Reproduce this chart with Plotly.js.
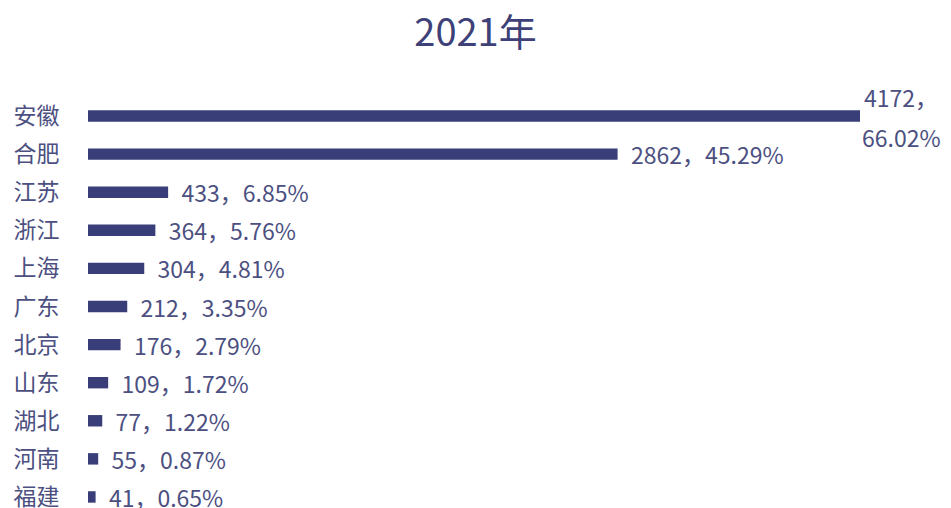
<!DOCTYPE html>
<html>
<head>
<meta charset="utf-8">
<script src="https://cdn.plot.ly/plotly-3.0.1.min.js"></script>
<style>html,body{margin:0;padding:0;background:#fff;}#chart{width:951px;height:508px;}</style>
</head>
<body>
<div id="chart"></div>
<script>
const categories = ["安徽","合肥","江苏","浙江","上海","广东","北京","山东","湖北","河南","福建"];
const values = [4172, 2862, 433, 364, 304, 212, 176, 109, 77, 55, 41];
const percents = ["66.02%","45.29%","6.85%","5.76%","4.81%","3.35%","2.79%","1.72%","1.22%","0.87%","0.65%"];
const titleText = "2021年";

const FONT = '"Noto Sans CJK SC", "Noto Sans", sans-serif';
const barColor = '#393d78';
const textColor = '#4c5081';

// first label wraps onto two lines in the reference; drawn by annotations
const labels = values.map((v, i) => i === 0 ? '' : '\u00a0\u00a0' + v + '，' + percents[i]);

const trace = {
  type: 'bar',
  orientation: 'h',
  x: values,
  y: categories,
  width: 0.3,
  marker: {color: barColor},
  text: labels,
  textposition: 'outside',
  constraintext: 'none',
  cliponaxis: false,
  textfont: {family: FONT, size: 23, color: textColor},
  hoverinfo: 'none'
};

const layout = {
  width: 951, height: 508,
  margin: {l: 88, r: 91, t: 97, b: 0, pad: 0},
  paper_bgcolor: '#fff', plot_bgcolor: '#fff',
  uniformtext: {mode: false},
  title: {text: titleText, x: 0.5, xanchor: 'center', y: 0.935, yanchor: 'middle',
          font: {family: FONT, size: 38, color: '#3d4177'}},
  xaxis: {range: [0, values[0]], visible: false, fixedrange: true},
  yaxis: {type: 'category', range: [10.29, -0.5], showgrid: false, zeroline: false, showline: false,
          ticks: 'outside', ticklen: 23, tickcolor: 'rgba(0,0,0,0)',
          tickfont: {family: FONT, size: 23, color: textColor}},
  showlegend: false,
  annotations: [
    {x: values[0], y: categories[0], xref: 'x', yref: 'y', text: values[0] + '，', showarrow: false,
     xanchor: 'left', yanchor: 'middle', xshift: 2, yshift: 19, font: {family: FONT, size: 23, color: textColor}},
    {x: values[0], y: categories[0], xref: 'x', yref: 'y', text: percents[0], showarrow: false,
     xanchor: 'left', yanchor: 'middle', xshift: 0, yshift: -21, font: {family: FONT, size: 23, color: textColor}}
  ]
};

Plotly.newPlot('chart', [trace], layout, {displayModeBar: false, staticPlot: true});
</script>
</body>
</html>
